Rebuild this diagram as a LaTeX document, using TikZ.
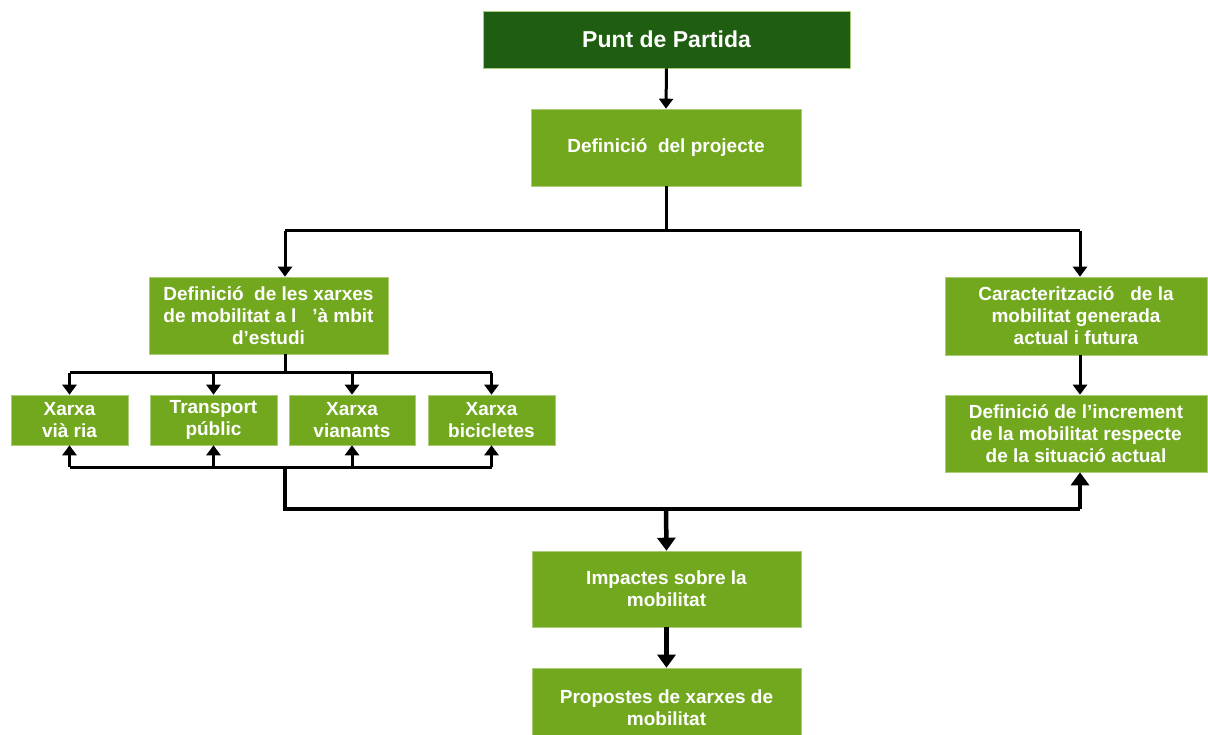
\documentclass[tikz,border=0pt]{standalone}
\usepackage{fontspec}
\setmainfont{Liberation Sans}
\usetikzlibrary{arrows.meta}
\definecolor{lg}{HTML}{72A81E}
\definecolor{dg}{HTML}{1F5E10}
\tikzset{
  box/.style={fill=lg, draw=lg!60!white, line width=0.6pt, text=white, align=center,
    font=\bfseries\fontsize{19}{22}\selectfont, inner sep=0pt},
  ln/.style={line width=3pt, draw=black},
  thk/.style={line width=4.5pt, draw=black},
  tip/.style={-{Triangle[width=14pt,length=10pt]}},
  btip/.style={-{Triangle[width=18pt,length=13pt]}}
}
\begin{document}
\begin{tikzpicture}[x=1pt,y=-1pt]
\useasboundingbox (0,0) rectangle (1208,735);
% boxes
\node[box, fill=dg, minimum width=367pt, minimum height=57pt, font=\bfseries\fontsize{23}{27}\selectfont] (punt) at (666.5,39.5) {Punt de Partida};
\node[box, minimum width=270pt, minimum height=77pt] (proj) at (666,147.5) {Definició\ \ del projecte};
\node[box, minimum width=239pt, minimum height=77pt] (xarxes) at (268.5,315.5) {Definició\ \ de les xarxes\\de mobilitat a l\ \ \ ’à mbit\\d’estudi};
\node[box, minimum width=262pt, minimum height=78pt] (carac) at (1076,316) {Caracterització\ \ \ de la\\mobilitat generada\\actual i futura};
\node[box, minimum width=262pt, minimum height=77pt] (incr) at (1076,433.5) {Definició de l’increment\\de la mobilitat respecte\\de la situació actual};
\node[box, minimum width=117pt, minimum height=50pt] (viaria) at (69.5,420) {Xarxa\\vià ria};
\node[box, minimum width=127pt, minimum height=50pt] (transp) at (213.5,420) {Transport\\públic};
\node[box, minimum width=126pt, minimum height=50pt] (vian) at (352,420) {Xarxa\\vianants};
\node[box, minimum width=127pt, minimum height=50pt] (bici) at (491.5,420) {Xarxa\\bicicletes};
\node[box, minimum width=269pt, minimum height=76pt] (impact) at (666.5,589) {Impactes sobre la\\mobilitat};
\node[box, minimum width=269pt, minimum height=80pt] (prop) at (666.5,708) {Propostes de xarxes de\\mobilitat};
% coordinates
\coordinate (jC) at (666,231);
\coordinate (jL) at (285,231);
\coordinate (jR) at (1080,231);
\coordinate (kT) at (285,373);
\coordinate (kB) at (285,467);
\coordinate (mL) at (285,509);
\coordinate (mC) at (666,509);
\coordinate (mR) at (1080,509);
% connectors top
\draw[ln,tip] (punt.south) -- (proj.north);
\draw[ln] (proj.south) -- (jC);
\draw[ln] (jL) -- (jR);
\draw[ln,tip] (jL) -- (jL |- xarxes.north);
\draw[ln,tip] (jR) -- (jR |- carac.north);
\draw[ln,tip] (jR |- carac.south) -- (jR |- incr.north);
% fan out
\draw[ln] (kT |- xarxes.south) -- (kT);
\draw[ln] (viaria.north |- kT) -- (bici.north |- kT);
\foreach \n in {viaria,transp,vian,bici}{
  \draw[ln,tip] (\n.north |- kT) -- (\n.north);
  \draw[ln,tip] (\n.south |- kB) -- (\n.south);
}
\draw[ln] (viaria.south |- kB) -- (bici.south |- kB);
% bottom thick
\draw[thk] (kB) -- (mL) -- (mR);
\draw[thk,btip] (mR) -- (mR |- incr.south);
\draw[thk,btip] (mC) -- (impact.north);
\draw[thk,btip] (impact.south) -- (prop.north);
\end{tikzpicture}
\end{document}
